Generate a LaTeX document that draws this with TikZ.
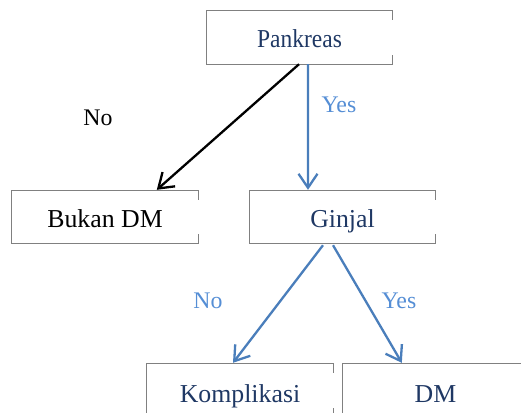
\documentclass[tikz,border=0pt]{standalone}
\usepackage{fontspec}
\usepackage{graphicx}
\setmainfont{Liberation Serif}
\usetikzlibrary{arrows.meta}
\definecolor{boxtext}{HTML}{1F3864}
\definecolor{framegray}{HTML}{808080}
\definecolor{linkblue}{HTML}{4A7EBB}
\definecolor{labelblue}{HTML}{558ED5}
\tikzset{
  decision/.style={inner sep=0pt, minimum width=185bp, minimum height=53bp,
    text=boxtext, font=\fontsize{25.8bp}{30bp}\selectfont,
    text height=20.5bp, text depth=0bp},
  leafbox/.style={decision, text=black},
  frame/.style={draw=framegray, line width=1.2bp},
  edgelabel/.style={inner sep=0pt, font=\fontsize{23.8bp}{28bp}\selectfont,
    text height=16bp, text depth=0bp},
  link/.style={line width=2.3bp, -{Straight Barb[length=14bp,width=19bp,line width=2.3bp]}},
}
% open-sided box outline: full left side, short ticks on the right side
\newcommand\boxoutline[1]{%
  \draw[frame] ([yshift=-9bp]#1.north east) -- (#1.north east) -- (#1.north west)
    -- (#1.south west) -- (#1.south east) -- ([yshift=9bp]#1.south east);}
\begin{document}
\begin{tikzpicture}[x=1bp, y=-1bp]
  \useasboundingbox (0,0) rectangle (521,412);
  \clip (0,0) rectangle (521,412);

  \node[decision] (pank) at (299.5,37.5) {\scalebox{0.91}[1]{Pankreas}};
  \node[leafbox, minimum width=186bp, minimum height=52bp] (bukan) at (105,217) {Bukan DM};
  \node[decision, minimum height=52bp] (ginjal) at (342.5,217) {Ginjal};
  \node[decision, minimum width=186bp, text height=23bp] (komp) at (240,390.5) {Komplikasi};
  \node[decision, text height=23bp] (dm) at (435.5,390.5) {DM};

  \foreach \b in {pank,bukan,ginjal,komp,dm} {\boxoutline{\b}}

  % branches out of Pankreas
  \draw[link, black] ([xshift=-0.5bp]pank.south) -- ([xshift=145bp,yshift=1bp]bukan.north west);
  \draw[link, linkblue] ([xshift=8.5bp]pank.south) -- ([xshift=-34.5bp,yshift=1bp]ginjal.north);
  % branches out of Ginjal
  \draw[link, linkblue] ([xshift=-19.5bp,yshift=-2bp]ginjal.south) -- ([xshift=-7bp,yshift=1bp]komp.north);
  \draw[link, linkblue] ([xshift=-9.5bp,yshift=-2bp]ginjal.south) -- ([xshift=59bp,yshift=1bp]dm.north west);

  \node[edgelabel, text=black] (lno) at (98,117) {No};
  \node[edgelabel, text=labelblue] (lyes) at (339,104) {Yes};
  \node[edgelabel, text=labelblue] (gno) at (208,300) {No};
  \node[edgelabel, text=labelblue] (gyes) at (399,300) {Yes};
\end{tikzpicture}
\end{document}
